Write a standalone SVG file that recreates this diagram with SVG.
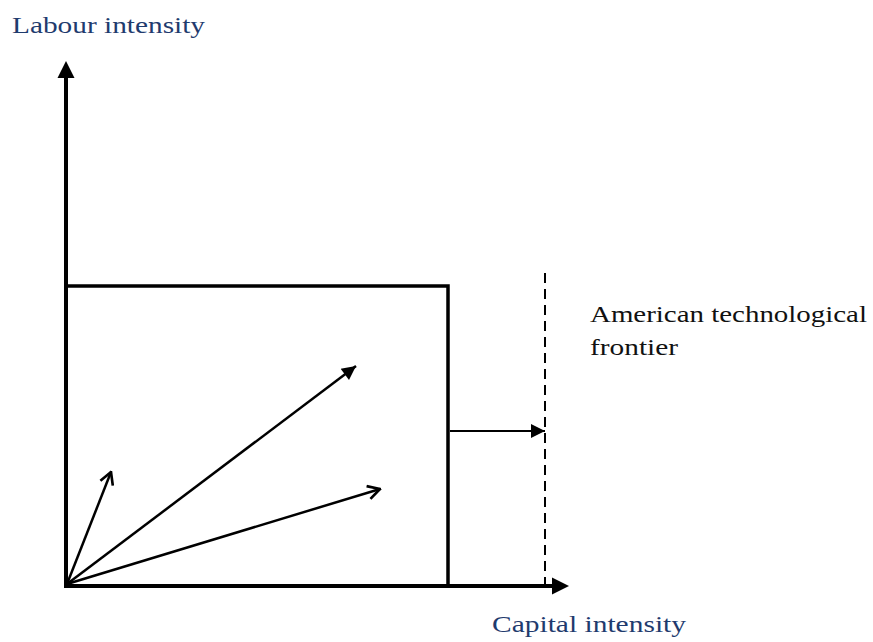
<svg xmlns="http://www.w3.org/2000/svg" width="873" height="642" viewBox="0 0 873 642">
<defs>
<style>
.lbl{font-family:"Liberation Serif","DejaVu Serif",serif;font-size:24px}
.blue{fill:#1f3b6e}
.dark{fill:#111}
.ax{stroke:#000;stroke-width:4;fill:none}
.vec{stroke:#000;stroke-width:2.5;fill:none}
</style>
<marker id="filled" viewBox="0 0 10 10" refX="10" refY="5" markerUnits="userSpaceOnUse" markerWidth="17" markerHeight="14" orient="auto">
<path d="M0,0 L10,5 L0,10 Z" fill="#000"/>
</marker>
<marker id="open" viewBox="0 0 12 12" refX="11" refY="6" markerUnits="userSpaceOnUse" markerWidth="16" markerHeight="16" orient="auto">
<path d="M2,1 L11,6 L2,11" fill="none" stroke="#000" stroke-width="2"/>
</marker>
</defs>
<rect width="873" height="642" fill="#fff"/>
<g id="labels">
<text class="lbl blue" x="12" y="33" textLength="193" lengthAdjust="spacingAndGlyphs">Labour intensity</text>
<text class="lbl blue" x="492" y="632" textLength="194" lengthAdjust="spacingAndGlyphs">Capital intensity</text>
<text class="lbl dark" x="590" y="322" textLength="277" lengthAdjust="spacingAndGlyphs">American technological</text>
<text class="lbl dark" x="590" y="355" textLength="88" lengthAdjust="spacingAndGlyphs">frontier</text>
</g>
<g id="box">
<path d="M66,286 H448 V586" fill="none" stroke="#000" stroke-width="3.5"/>
</g>
<g id="frontier">
<line x1="545" y1="273" x2="545" y2="586" stroke="#000" stroke-width="2" stroke-dasharray="10,6"/>
</g>
<g id="connectors">
<line class="ax" x1="66" y1="588" x2="66" y2="76"/>
<polygon points="66,61 57.5,78 74.5,78" fill="#000"/>
<line class="ax" x1="64" y1="586" x2="553" y2="586"/>
<polygon points="569,586 552,577.5 552,594.5" fill="#000"/>
<line x1="450" y1="431" x2="545" y2="431" stroke="#000" stroke-width="2.2" marker-end="url(#filled)"/>
<line class="vec" x1="67" y1="584" x2="111" y2="472" marker-end="url(#open)"/>
<line class="vec" x1="67" y1="584" x2="356" y2="366" marker-end="url(#filled)"/>
<line class="vec" x1="67" y1="584" x2="380" y2="489" marker-end="url(#open)"/>
</g>
</svg>
